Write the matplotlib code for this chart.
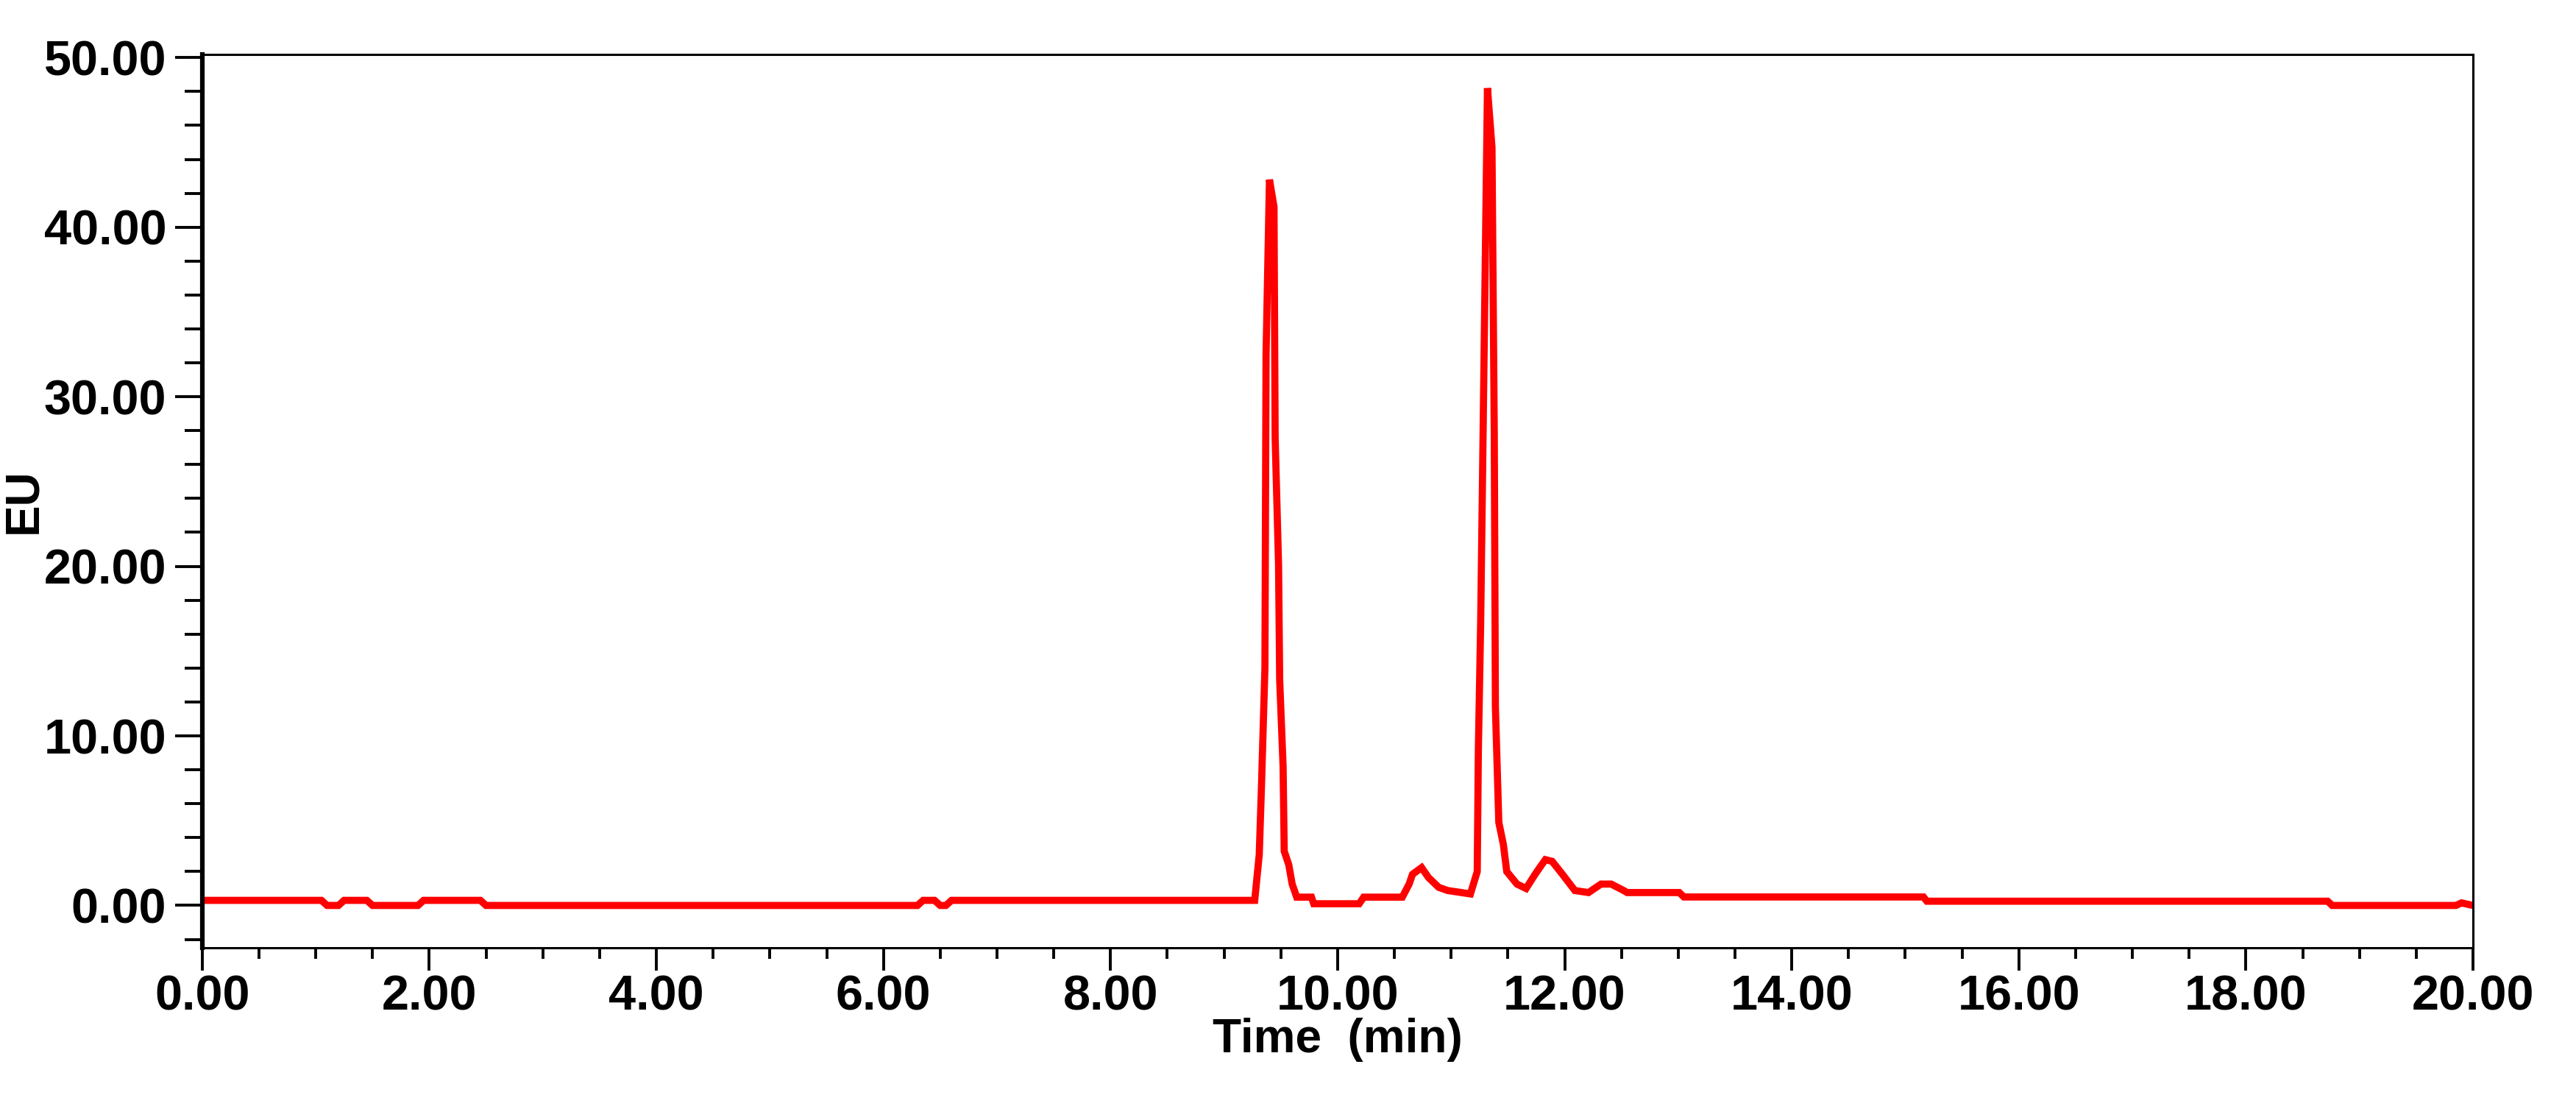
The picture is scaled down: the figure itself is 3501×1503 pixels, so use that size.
import matplotlib
matplotlib.use("Agg")
import matplotlib.pyplot as plt
from matplotlib.ticker import MultipleLocator, FormatStrFormatter

time_min = [0.00, 1.05, 1.10, 1.20, 1.25, 1.45, 1.50, 1.90, 1.95, 2.45, 2.50, 6.30, 6.35, 6.45, 6.50, 6.55, 6.60,
            9.27, 9.31, 9.33, 9.36, 9.37, 9.40, 9.44, 9.45, 9.48, 9.49, 9.52, 9.53, 9.57, 9.60, 9.64, 9.77, 9.79,
            10.19, 10.23, 10.57, 10.63, 10.66, 10.74, 10.80, 10.89, 10.97, 11.17, 11.23, 11.24, 11.26, 11.28,
            11.32, 11.36, 11.38, 11.39, 11.42, 11.46, 11.49, 11.58, 11.66, 11.74, 11.78, 11.83, 11.89, 11.98,
            12.09, 12.21, 12.32, 12.41, 12.52, 12.55, 13.01, 13.05, 15.16, 15.19, 18.72, 18.76, 19.85, 19.90, 20.00]
eu = [0.30, 0.30, 0.00, 0.00, 0.30, 0.30, 0.00, 0.00, 0.30, 0.30, 0.00, 0.00, 0.30, 0.30, 0.00, 0.00, 0.30,
      0.30, 3.0, 7.1, 14.0, 32.5, 42.8, 41.2, 27.6, 20.1, 13.3, 8.2, 3.2, 2.4, 1.26, 0.49, 0.49, 0.10,
      0.10, 0.49, 0.49, 1.26, 1.84, 2.23, 1.65, 1.07, 0.88, 0.68, 2.0, 9.2, 16.6, 27.0,
      48.2, 44.7, 27.8, 11.7, 4.9, 3.6, 2.0, 1.26, 1.0, 1.84, 2.23, 2.7, 2.6, 1.84,
      0.88, 0.76, 1.26, 1.26, 0.88, 0.76, 0.76, 0.50, 0.50, 0.25, 0.25, 0.00, 0.00, 0.15, 0.00]

plt.rcParams['font.family'] = ['Liberation Sans', 'DejaVu Sans']
plt.rcParams['font.weight'] = 'bold'

fig = plt.figure(figsize=(35.01, 15.03), dpi=100)
ax = fig.add_axes([0.0785, 0.143, 0.8815, 0.808])
ax.plot(time_min, eu, color='#ff0000', lw=7, solid_joinstyle='miter')
ax.set_xlim(0, 20)
ax.set_ylim(-2.5, 50.2)
ax.xaxis.set_major_locator(MultipleLocator(2))
ax.xaxis.set_minor_locator(MultipleLocator(0.5))
ax.yaxis.set_major_locator(MultipleLocator(10))
ax.yaxis.set_minor_locator(MultipleLocator(2))
ax.xaxis.set_major_formatter(FormatStrFormatter('%.2f'))
ax.yaxis.set_major_formatter(FormatStrFormatter('%.2f'))
ax.tick_params(axis='y', which='major', length=27, width=2.8, labelsize=48, pad=8, direction='out')
ax.tick_params(axis='y', which='minor', length=17, width=2.8, direction='out')
ax.tick_params(axis='x', which='major', length=22, width=2.8, labelsize=48, pad=4, direction='out')
ax.tick_params(axis='x', which='minor', length=11, width=2.8, direction='out')
for lab in ax.get_xticklabels() + ax.get_yticklabels():
    lab.set_fontweight('bold')
for s in ['top', 'right', 'bottom']:
    ax.spines[s].set_linewidth(2.2)
ax.spines['left'].set_linewidth(4.5)
ax.set_xlabel('Time  (min)', fontsize=46, fontweight='bold', labelpad=-2)
ax.set_ylabel('EU', fontsize=46, fontweight='bold', labelpad=-2)
fig.savefig('out.png', dpi=100, facecolor='white')
